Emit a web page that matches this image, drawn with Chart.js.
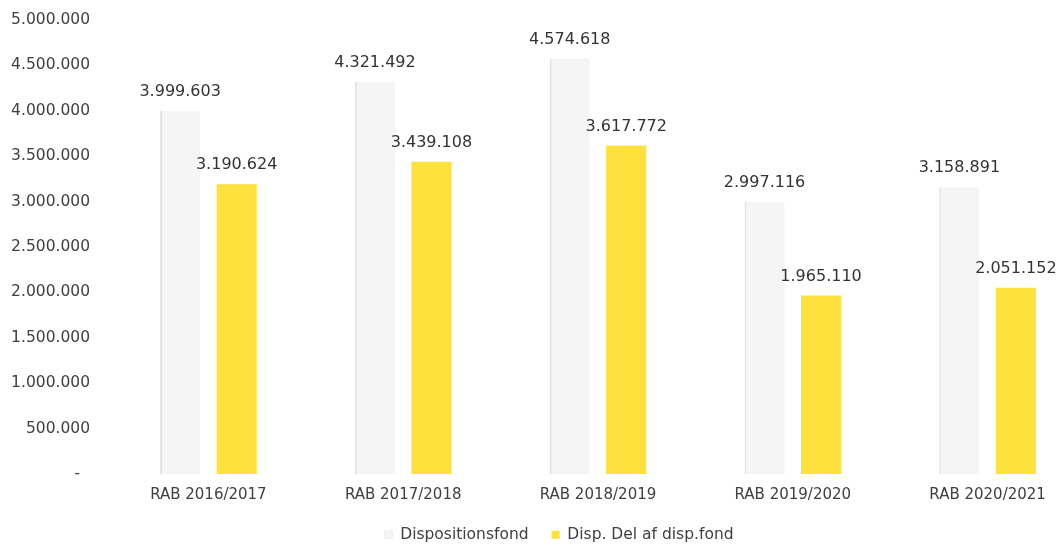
<!DOCTYPE html>
<html lang="da">
<head>
    <meta charset="UTF-8">
    <title>Dispositionsfond RAB 2016-2021</title>
    <script src="https://cdn.jsdelivr.net/npm/chart.js"></script>
    <style>
        html, body { margin: 0; padding: 0; background: #fff; overflow: hidden; }
        #wrap { width: 1118px; height: 546px; }
    </style>
</head>
<body>
    <div id="wrap"><canvas id="fondChart"></canvas></div>

    <script>
        // regnskabsår
        const categories = ['RAB 2016/2017', 'RAB 2017/2018', 'RAB 2018/2019', 'RAB 2019/2020', 'RAB 2020/2021'];
        // samlet dispositionsfond
        const dispositionsfond = [3999603, 4321492, 4574618, 2997116, 3158891];
        // disponeret del af fonden
        const dispDel = [3190624, 3439108, 3617772, 1965110, 2051152];
        // y-akse
        const yTicks = [0, 500000, 1000000, 1500000, 2000000, 2500000, 3000000, 3500000, 4000000, 4500000, 5000000];

        const FONT = 'DejaVu Sans';

        // tusindtalsseparator med punktum
        function fmt(v) {
            return String(Math.round(v)).replace(/\B(?=(\d{3})+(?!\d))/g, '.');
        }

        // tal over søjlerne
        const valueLabels = {
            id: 'valueLabels',
            afterDatasetsDraw(chart) {
                const ctx = chart.ctx;
                ctx.save();
                ctx.font = '16px "' + FONT + '"';
                ctx.fillStyle = '#333333';
                ctx.textAlign = 'center';
                ctx.textBaseline = 'middle';
                chart.data.datasets.forEach((ds, i) => {
                    chart.getDatasetMeta(i).data.forEach((bar, j) => {
                        ctx.fillText(fmt(ds.data[j]), bar.x, bar.y - 19);
                    });
                });
                ctx.restore();
            }
        };

        new Chart(document.getElementById('fondChart'), {
            type: 'bar',
            data: {
                labels: categories,
                datasets: [
                    {
                        label: 'Dispositionsfond',
                        data: dispositionsfond,
                        backgroundColor: '#f5f5f5',
                        borderColor: '#e2e2e2',
                        borderWidth: { left: 2, right: 0, top: 0, bottom: 0 }
                    },
                    {
                        label: 'Disp. Del af disp.fond',
                        data: dispDel,
                        backgroundColor: '#fde13c',
                        borderWidth: 0
                    }
                ]
            },
            options: {
                responsive: true,
                maintainAspectRatio: false,
                animation: false,
                categoryPercentage: 0.58,
                barPercentage: 0.71,
                layout: { padding: { top: 20, right: 0, left: 0, bottom: 0 } },
                scales: {
                    x: {
                        grid: { display: false, drawTicks: false },
                        border: { display: false },
                        ticks: { color: '#404040', font: { family: FONT, size: 15 }, padding: 12 },
                        afterFit: function (scale) { scale.height = 30; }
                    },
                    y: {
                        min: 0,
                        max: 5000000,
                        afterBuildTicks: function (scale) {
                            scale.ticks = yTicks.map(v => ({ value: v }));
                        },
                        grid: { display: false, drawTicks: false },
                        border: { display: false },
                        ticks: {
                            color: '#404040',
                            font: { family: FONT, size: 15.5 },
                            padding: 21,
                            callback: function (value) {
                                return value === 0 ? '-  ' : fmt(value);
                            }
                        },
                        afterFit: function (scale) {
                            scale.width = 111;
                            scale.paddingTop = 0;
                            scale.paddingBottom = 0;
                        }
                    },
                    // tom akse til højre, giver luft efter sidste søjlepar
                    right: {
                        position: 'right',
                        display: true,
                        grid: { display: false, drawTicks: false },
                        border: { display: false },
                        ticks: { display: false },
                        afterFit: function (scale) {
                            scale.width = 33;
                            scale.paddingTop = 0;
                            scale.paddingBottom = 0;
                        }
                    }
                },
                plugins: {
                    legend: {
                        position: 'bottom',
                        maxHeight: 42,
                        labels: {
                            color: '#404040',
                            font: { family: FONT, size: 15.5 },
                            boxWidth: 8,
                            boxHeight: 8,
                            padding: 23
                        }
                    },
                    tooltip: { enabled: false }
                }
            },
            plugins: [valueLabels]
        });
    </script>
</body>
</html>
